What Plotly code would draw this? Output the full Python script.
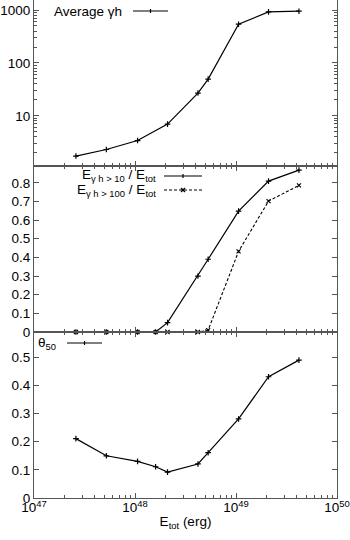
import plotly.graph_objects as go
from plotly.subplots import make_subplots

# ---- data ----
e_tot_avg = [2.6e47, 5.2e47, 1.06e48, 2.1e48, 4.2e48, 5.3e48, 1.06e49, 2.1e49, 4.2e49]
avg_gh = [1.73, 2.3, 3.4, 6.95, 26.9, 49.4, 540, 922, 950]

e_tot_frac = [2.6e47, 5.2e47, 1.06e48, 1.6e48, 2.1e48, 4.2e48, 5.3e48, 1.06e49, 2.1e49, 4.2e49]
frac_gt10 = [0, 0, 0, 0, 0.05, 0.30, 0.39, 0.648, 0.809, 0.868]
frac_gt100 = [0, 0, 0, 0, 0, 0, 0.01, 0.432, 0.702, 0.786]
theta50 = [0.211, 0.150, 0.130, 0.111, 0.092, 0.121, 0.161, 0.281, 0.431, 0.490]

x_tick_vals = [1e47, 1e48, 1e49, 1e50]
x_tick_text = ["10<sup>47</sup>", "10<sup>48</sup>", "10<sup>49</sup>", "10<sup>50</sup>"]

FONT = "Liberation Sans, Arial, sans-serif"
AX = "#555555"
FS = 13.5

fig = make_subplots(rows=3, cols=1, shared_xaxes=True, vertical_spacing=0)

plus = dict(symbol="cross-thin", size=4, line=dict(width=1.2, color="black"), color="black")
cross = dict(symbol="x-thin", size=4, line=dict(width=1.2, color="black"), color="black")

fig.add_trace(go.Scatter(x=e_tot_avg, y=avg_gh, mode="lines+markers",
                         line=dict(color="black", width=1.2), marker=plus,
                         cliponaxis=False, showlegend=False), row=1, col=1)
fig.add_trace(go.Scatter(x=e_tot_frac, y=frac_gt10, mode="lines+markers",
                         line=dict(color="black", width=1.2), marker=plus,
                         cliponaxis=False, showlegend=False), row=2, col=1)
fig.add_trace(go.Scatter(x=e_tot_frac, y=frac_gt100, mode="lines+markers",
                         line=dict(color="black", width=1.1, dash="3px,2px"), marker=cross,
                         cliponaxis=False, showlegend=False), row=2, col=1)
fig.add_trace(go.Scatter(x=e_tot_frac, y=theta50, mode="lines+markers",
                         line=dict(color="black", width=1.2), marker=plus,
                         cliponaxis=False, showlegend=False), row=3, col=1)

x_minor = [m * 10.0 ** p for p in (47, 48, 49) for m in range(2, 10)]
y_minor = [m * 10.0 ** p for p in (0, 1, 2, 3) for m in range(2, 10)]

common_x = dict(type="log", range=[47, 50], showgrid=False, zeroline=False,
                showline=True, linecolor=AX, linewidth=1,
                ticks="inside", ticklen=5, tickcolor=AX,
                tickvals=x_tick_vals,
                minor=dict(ticks="inside", ticklen=3, tickcolor=AX, showgrid=False,
                           tickvals=x_minor),
                tickfont=dict(family=FONT, size=FS, color="black"))

fig.update_xaxes(**common_x)
fig.update_xaxes(mirror=False, showticklabels=False, row=1, col=1)
fig.update_xaxes(mirror="ticks", showticklabels=False, row=2, col=1)
fig.update_xaxes(mirror="ticks", showticklabels=True, ticktext=x_tick_text, ticklabelstandoff=-3,
                 title=dict(text="E<sub>tot</sub> (erg)", font=dict(family=FONT, size=FS, color="black"),
                            standoff=2),
                 row=3, col=1)

common_y = dict(showgrid=False, zeroline=False, showline=True, linecolor=AX, linewidth=1,
                mirror="ticks", ticks="inside", ticklen=5, tickcolor=AX,
                tickfont=dict(family=FONT, size=FS, color="black"))
fig.update_yaxes(**common_y)
fig.update_yaxes(type="log", range=[0.05, 3.19], tickvals=[10, 100, 1000], ticktext=["10", "100", "1000"],
                 minor=dict(ticks="inside", ticklen=3, tickcolor=AX, tickvals=y_minor),
                 row=1, col=1)
fig.update_yaxes(range=[0, 0.89], tickvals=[0, 0.1, 0.2, 0.3, 0.4, 0.5, 0.6, 0.7, 0.8],
                 ticktext=["0", "0.1", "0.2", "0.3", "0.4", "0.5", "0.6", "0.7", "0.8"], row=2, col=1)
fig.update_yaxes(range=[0, 0.59], tickvals=[0, 0.1, 0.2, 0.3, 0.4, 0.5],
                 ticktext=["0", "0.1", "0.2", "0.3", "0.4", "0.5"], row=3, col=1)

# ---- gnuplot-style keys (text, then sample) ----
L, R, T, B = 34, 337, 0, 498
W, H = R - L, B - T


def px(x):
    return (x - L) / W


def py(y):
    return 1 - (y - T) / H


def key(text, x_text_right, y, x0, x1, mk, dash=None):
    fig.add_annotation(text=text, xref="paper", yref="paper", x=px(x_text_right), y=py(y),
                       xanchor="right", yanchor="middle", showarrow=False,
                       font=dict(family=FONT, size=FS, color="black"))
    fig.add_shape(type="line", xref="paper", yref="paper", x0=px(x0), x1=px(x1), y0=py(y), y1=py(y),
                  line=dict(color="black", width=1.2, dash=dash or "solid"))
    xm = (x0 + x1) / 2
    if mk == "+":
        fig.add_shape(type="line", xref="paper", yref="paper", x0=px(xm), x1=px(xm),
                      y0=py(y - 2), y1=py(y + 2), line=dict(color="black", width=1.2))
    else:
        fig.add_shape(type="line", xref="paper", yref="paper", x0=px(xm - 2), x1=px(xm + 2),
                      y0=py(y - 2), y1=py(y + 2), line=dict(color="black", width=1.2))
        fig.add_shape(type="line", xref="paper", yref="paper", x0=px(xm - 2), x1=px(xm + 2),
                      y0=py(y + 2), y1=py(y - 2), line=dict(color="black", width=1.2))


key("Average γh", 124, 11, 133, 168, "+")
key("E<sub>γ h > 10</sub> / E<sub>tot</sub>", 158, 176, 164, 202, "+")
key("E<sub>γ h > 100</sub> / E<sub>tot</sub>", 158, 190, 164, 202, "x", dash="3px,2px")
key("θ<sub>50</sub>", 58, 343, 67, 102, "+")

fig.update_layout(width=350, height=540, margin=dict(l=34, r=13, t=0, b=42, autoexpand=False),
                  plot_bgcolor="white", paper_bgcolor="white",
                  font=dict(family=FONT, size=FS, color="black"), showlegend=False)

fig.write_html("out.html", config={"displayModeBar": False},
               post_script="document.body.style.margin='0';")
